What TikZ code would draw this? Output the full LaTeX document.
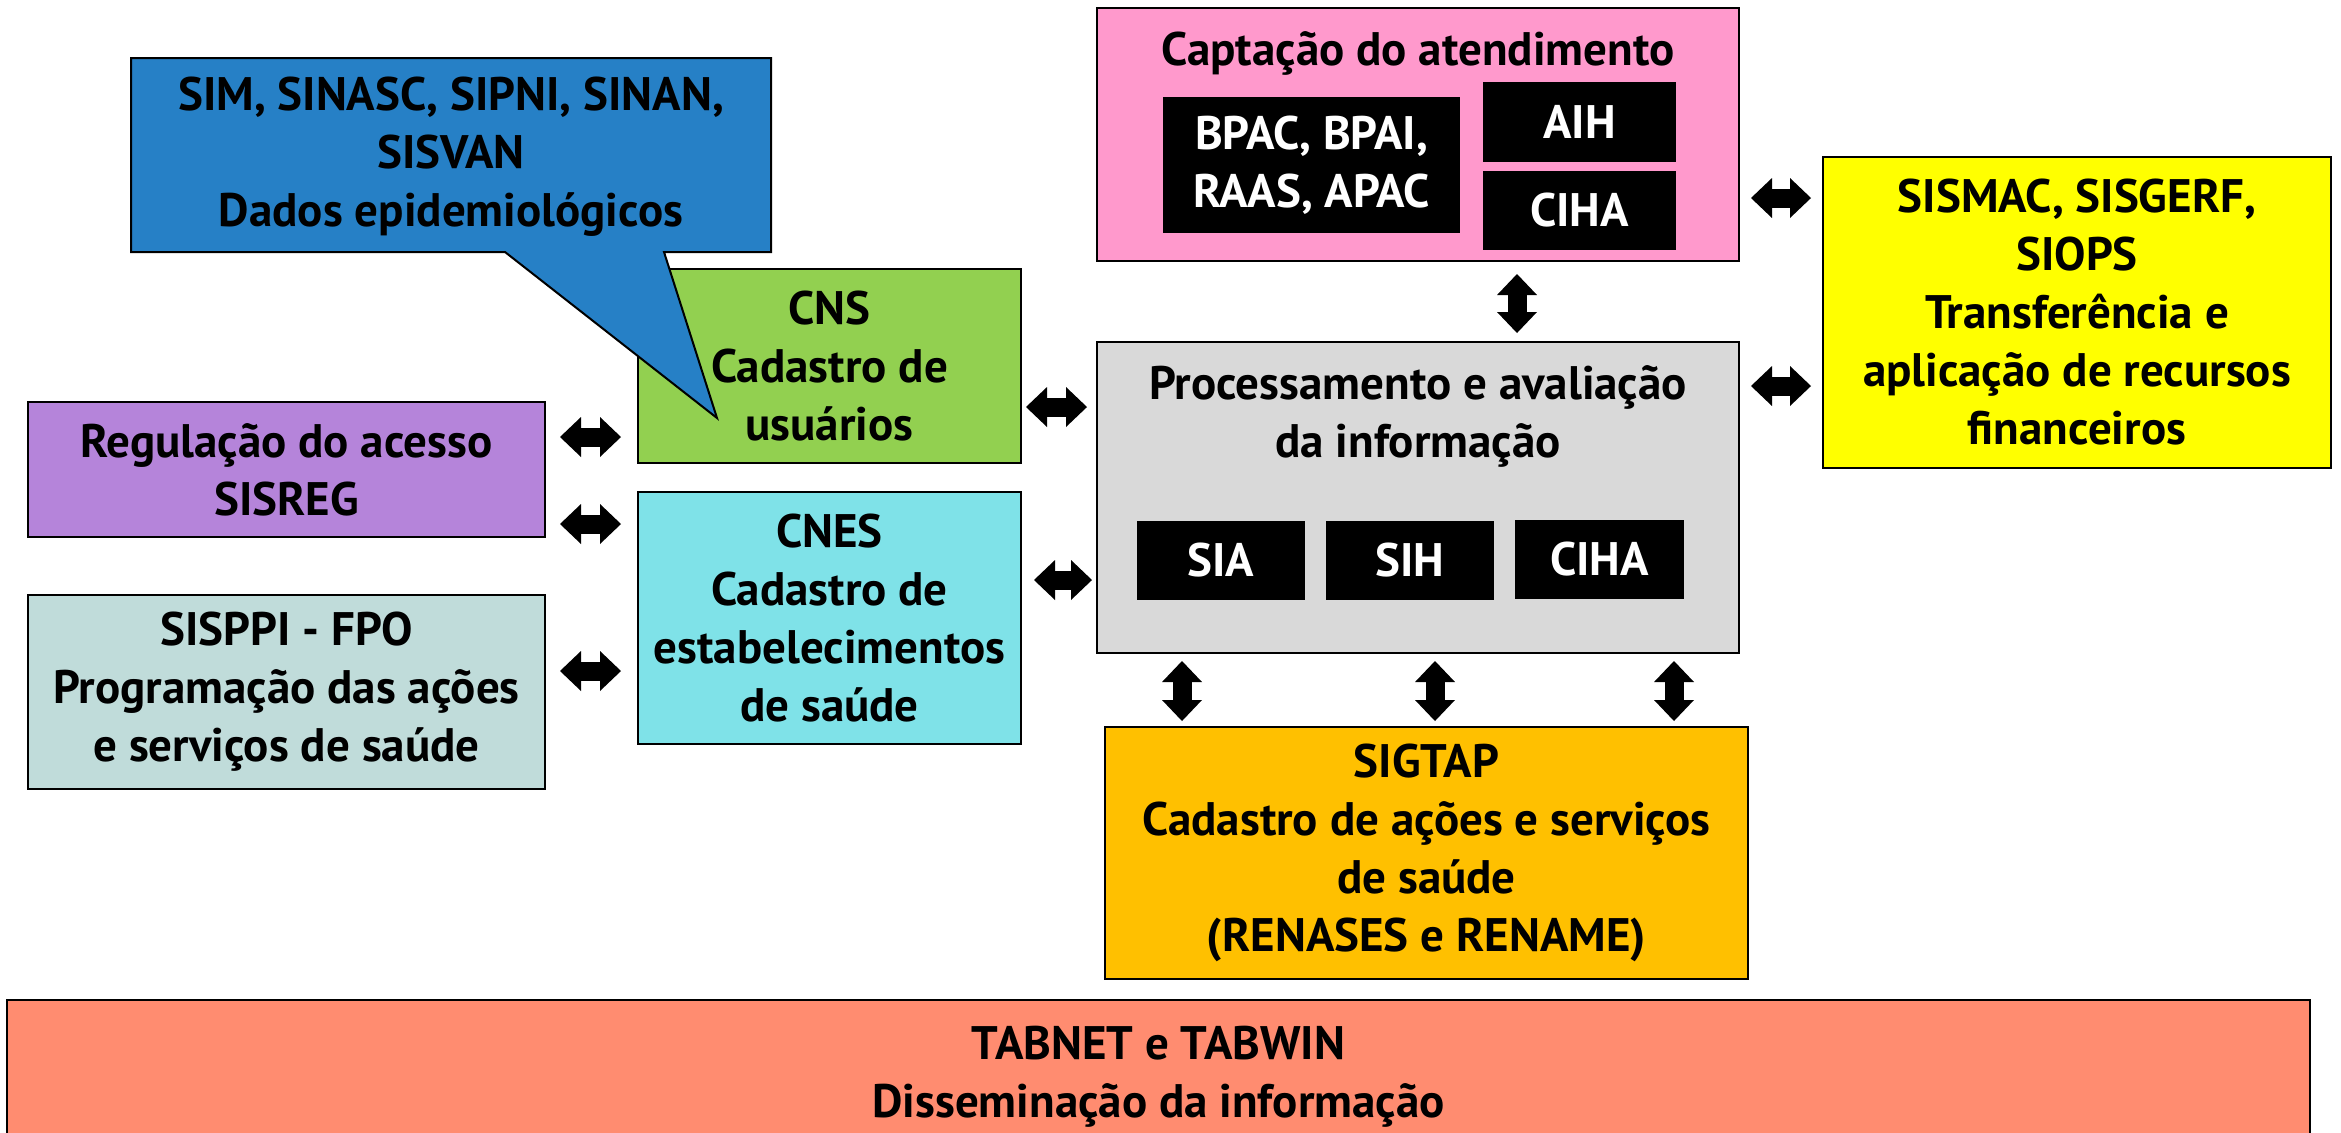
\documentclass[tikz,border=0pt]{standalone}
\usepackage{fontspec}
\setmainfont{PT Sans}
\usetikzlibrary{arrows.meta}
\definecolor{cblue}{HTML}{2680C6}
\definecolor{cgreen}{HTML}{92D050}
\definecolor{cpurple}{HTML}{B584DA}
\definecolor{ccyan}{HTML}{7FE2E8}
\definecolor{cteal}{HTML}{C0DCDA}
\definecolor{cpink}{HTML}{FF99CC}
\definecolor{cgray}{HTML}{D9D9D9}
\definecolor{cyellow}{HTML}{FFFF00}
\definecolor{corange}{HTML}{FFC000}
\definecolor{csalmon}{HTML}{FF8C70}
\tikzset{
  txt/.style={font=\fontsize{23.5}{29}\selectfont\bfseries},
  box/.style={draw=black, line width=1pt, align=center, inner sep=0pt, txt},
  blk/.style={fill=black, text=white, align=center, inner sep=0pt, txt},
  lbl/.style={align=center, inner sep=0pt, txt},
  dbl/.style={line width=9.5pt, {Triangle[width=20pt,length=10.5pt,line width=0pt]}-{Triangle[width=20pt,length=10.5pt,line width=0pt]}}
}
\begin{document}
\begin{tikzpicture}[x=0.5pt,y=-0.5pt]
\useasboundingbox (0,0) rectangle (2341,1132);
\fill[white] (0,0) rectangle (2341,1132);

% left column
\node[box, fill=cpurple, minimum width=258.5pt, minimum height=67.5pt] (reg) at (286.5,469.5) {Regulação do acesso\\SISREG};
\node[box, fill=cteal, minimum width=258.5pt, minimum height=97pt] (fpo) at (286.5,692) {SISPPI - FPO\\Programação das ações\\e serviços de saúde};

% middle column
\node[box, fill=cgreen, minimum width=191.5pt, minimum height=97pt] (cns) at (829.5,366) {CNS\\Cadastro de\\usuários};
\node[box, fill=ccyan, minimum width=191.5pt, minimum height=126pt] (cnes) at (829.5,618) {CNES\\Cadastro de\\estabelecimentos\\de saúde};

% callout
\filldraw[fill=cblue, draw=black, line width=1pt] (131,58) -- (771,58) -- (771,252) -- (664,252) -- (717,418) -- (505,252) -- (131,252) -- cycle;
\node[lbl] (epi) at (451,157) {SIM, SINASC, SIPNI, SINAN,\\SISVAN\\Dados epidemiológicos};

% captacao
\node[box, fill=cpink, minimum width=321pt, minimum height=126.5pt] (capt) at (1418,134.5) {};
\node[lbl] (captt) at (1418,53) {Captação do atendimento};
\node[blk, minimum width=148.5pt, minimum height=68pt] (bpac) at (1311.5,165) {BPAC, BPAI,\\RAAS, APAC};
\node[blk, minimum width=96.5pt, minimum height=40pt] (aih) at (1579.5,122) {AIH};
\node[blk, minimum width=96.5pt, minimum height=39.5pt] (ciha1) at (1579.5,210.5) {CIHA};

% processamento
\node[box, fill=cgray, minimum width=321pt, minimum height=155.5pt] (proc) at (1418,497.5) {};
\node[lbl] (proct) at (1418,416) {Processamento e avaliação\\da informação};
\node[blk, minimum width=84pt, minimum height=39.5pt] (sia) at (1221,560.5) {SIA};
\node[blk, minimum width=84pt, minimum height=39.5pt] (sih) at (1410,560.5) {SIH};
\node[blk, minimum width=84.5pt, minimum height=39.5pt] (ciha2) at (1599.5,559.5) {CIHA};

% right
\node[box, fill=cyellow, minimum width=254pt, minimum height=155.5pt] (sismac) at (2077,312.5) {SISMAC, SISGERF,\\SIOPS\\Transferência e\\aplicação de recursos\\financeiros};

% sigtap
\node[box, fill=corange, minimum width=321.5pt, minimum height=126pt] (sigtap) at (1426.5,853) {SIGTAP\\Cadastro de ações e serviços\\de saúde\\(RENASES e RENAME)};

% tabnet
\node[box, fill=csalmon, minimum width=1151.5pt, minimum height=70pt] (tab) at (1158.5,1070) {};
\node[lbl] (tabt) at (1158.5,1077) {TABNET e TABWIN\\Disseminação da informação};

% arrows
\draw[dbl, shorten <=7pt, shorten >=8pt] (reg.east |- 0,437) -- (cns.west |- 0,437);
\draw[dbl, shorten <=7pt, shorten >=8pt] (reg.east |- 0,524) -- (cnes.west |- 0,524);
\draw[dbl, shorten <=7pt, shorten >=8pt] (fpo.east |- 0,671) -- (cnes.west |- 0,671);
\draw[dbl, shorten <=2pt, shorten >=4.5pt] (cns.east |- 0,407) -- (proc.west |- 0,407);
\draw[dbl, shorten <=6pt, shorten >=2pt] (cnes.east |- 0,580) -- (proc.west |- 0,580);
\draw[dbl, shorten <=5.5pt, shorten >=5.5pt] (capt.east |- 0,198) -- (sismac.west |- 0,198);
\draw[dbl, shorten <=5.5pt, shorten >=5.5pt] (proc.east |- 0,386) -- (sismac.west |- 0,386);
\draw[dbl, shorten <=6pt, shorten >=4pt] (capt.south -| 1517,0) -- (proc.north -| 1517,0);
\draw[dbl, shorten <=3.5pt, shorten >=2.5pt] (proc.south -| 1182,0) -- (sigtap.north -| 1182,0);
\draw[dbl, shorten <=3.5pt, shorten >=2.5pt] (proc.south -| 1435,0) -- (sigtap.north -| 1435,0);
\draw[dbl, shorten <=3.5pt, shorten >=2.5pt] (proc.south -| 1674,0) -- (sigtap.north -| 1674,0);
\end{tikzpicture}
\end{document}
